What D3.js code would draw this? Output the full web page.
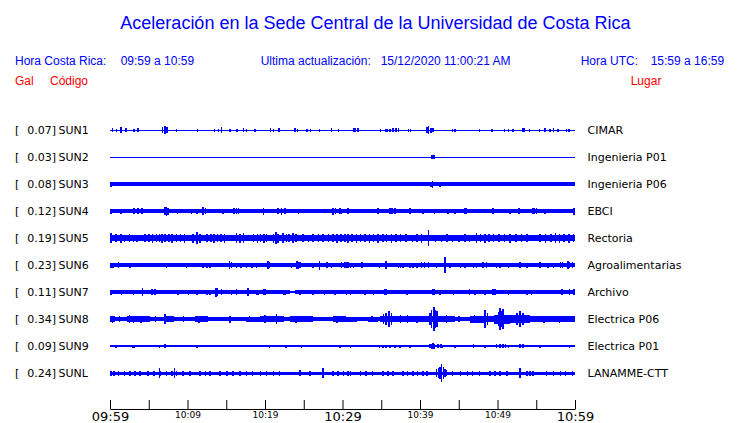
<!DOCTYPE html>
<html><head><meta charset="utf-8">
<script src="https://cdn.jsdelivr.net/npm/d3@7"></script>
<style>body{margin:0;background:#fff}svg{display:block}</style>
</head><body><svg id="c" width="740" height="423"></svg>
<script>
// ---------- data ----------
const title = "Aceleración en la Sede Central de la Universidad de Costa Rica";
const headerLocal = ["Hora Costa Rica:", "09:59 a 10:59"];
const headerUpdate = ["Ultima actualización:", "15/12/2020 11:00:21 AM"];
const headerUTC = ["Hora UTC:", "15:59 a 16:59"];
const columnHeads = ["Gal", "Código", "Lugar"];

const codes  = ["SUN1","SUN2","SUN3","SUN4","SUN5","SUN6","SUN7","SUN8","SUN9","SUNL"];
const peaks  = ["0.07","0.03","0.08","0.12","0.19","0.23","0.11","0.34","0.09","0.24"];
const places = ["CIMAR","Ingenieria P01","Ingenieria P06","EBCI","Rectoria","Agroalimentarias","Archivo","Electrica P06","Electrica P01","LANAMME-CTT"];

const startTime = new Date(2020, 11, 15, 9, 59);
const endTime   = new Date(2020, 11, 15, 10, 59);
const tickMinutes  = [0,5,10,15,20,25,30,35,40,45,50,55,60];
const labelMinutes = [0,10,20,30,40,50,60];
const majorMinutes = [0,30,60];

// envelope of each trace: [minute since 09:59, half amplitude] (step function)
const SUN1_band = [[0,0.5]];
const SUN1_spikes = [[0.35,2],[0.86,1.5],[1.42,3],[2.06,2],[3.1,1.5],[3.6,2],[6.8,3],[7.0,3],[7.1,4],[7.35,3],[8.6,1.5],[11.3,1.5],[13.5,1.5],[14.0,1.5],[14.4,3],[15.5,1.5],[16.4,1.5],[17.2,2],[17.6,1.5],[18.7,1.5],[20.7,2],[21.1,1.5],[21.8,2],[23.9,2],[24.2,1.5],[25.4,1.5],[25.9,1.5],[27.0,1.5],[28.6,2],[29.5,1.5],[31.5,2],[31.7,2],[32.0,2],[34.9,1.5],[35.6,1.5],[35.8,1.5],[36.1,1.5],[36.5,2],[36.9,2],[37.2,2],[38.5,1.5],[38.8,1.5],[40.9,3],[41.1,4],[41.4,2.5],[41.7,2],[44.2,1.5],[44.5,1.5],[47.7,1.5],[49.3,1.5],[50.9,1.5],[51.4,1.5],[52.0,1.5],[53.3,2],[53.5,2],[54.1,1.5],[55.4,1.5],[56.1,2],[56.8,1.5],[57.2,2],[57.8,1.5],[58.9,1.5],[59.2,1.5]];

const SUN2_band = [[0,0.5]];
const SUN2_spikes = [[41.55,1.7],[41.7,1.7],[41.8,1.7]];

const SUN3_band = [[0,1.9]];
const SUN3_spikes = [[0.05,2.5],[0.2,2.5],[41.4,2.5],[41.6,3.5],[42.6,2.5]];

const SUN4_band = [[0,2]];
const SUN4_spikes = [[0.13,2.5],[1.4,2.5],[3.1,3],[3.6,3],[4.1,3],[7.1,4],[7.3,4.5],[7.5,3.5],[8.7,2.5],[10.5,2.5],[11.2,2.5],[12.0,4],[12.3,3],[14.6,2.5],[16.0,3],[16.3,3],[16.6,3],[19.8,3.5],[21.7,3],[22.1,3.5],[22.6,3],[24.3,2.5],[28.8,3.5],[29.1,3],[29.7,3],[29.9,2.5],[30.7,3],[34.6,3],[36.1,3],[36.4,3],[36.8,3],[38.7,3],[40.4,2.5],[41.9,2.5],[43.6,2.5],[44.5,2.5],[45.8,3],[46.0,3],[49.4,3],[51.6,2.5],[52.8,3],[54.6,3],[54.8,3],[55.0,3],[56.1,2.5],[59.8,3],[59.9,3.5]];

const SUN5_band = [[0,3],[2.8,2.6],[4.3,3],[37,2.7],[38.5,3]];
const SUN5_spikes = [[0.13,5],[0.8,4],[1.4,4.5],[1.9,3.5],[2.5,4],[3.0,3.5],[3.5,3.5],[4.5,4],[5.0,4],[5.5,4.5],[6.0,4],[6.4,4],[6.7,4.5],[7.1,4],[7.6,4],[8.0,4.5],[8.6,4],[9.1,4],[9.6,4.5],[10.7,4.5],[11.2,6],[11.6,4.5],[12.5,4],[13.0,4],[13.4,4.5],[13.9,4],[14.3,4],[14.8,4.5],[16.3,5],[16.8,4.5],[17.2,5],[18.5,4],[19.0,4.5],[19.4,4],[19.9,4.5],[20.2,4],[21.1,4.5],[21.4,6],[21.7,4.5],[22.3,5],[22.8,4],[23.1,4],[23.6,5],[24.0,4],[24.9,4],[25.6,3.5],[26.2,4],[26.9,4],[27.5,4],[28.2,4],[28.8,4],[29.3,4.5],[29.8,4],[30.3,4],[30.7,4.5],[31.2,4],[31.8,4.5],[32.3,4],[32.9,4],[33.5,4.5],[34.0,4],[34.6,4.5],[35.2,4],[35.7,4],[36.3,4.5],[36.9,4],[37.5,4],[38.2,4],[39.0,3.5],[39.6,4],[40.2,4.5],[41.1,8],[42.0,3.5],[42.8,3.5],[43.5,4],[44.2,3.5],[45.0,3.5],[45.8,4],[46.4,3.5],[47.3,5],[47.8,4],[48.4,4.5],[48.9,4],[49.5,4],[50.2,4],[50.9,4],[51.6,4.5],[52.4,4],[53.1,4],[53.8,4],[55.5,4],[56.2,4.5],[56.9,4],[57.5,5],[58.0,4.5],[58.6,4],[59.2,4.5],[59.8,4]];

const SUN6_band = [[0,1.6],[5.2,1.9],[6.9,1.6]];
const SUN6_spikes = [[0.1,2.5],[0.4,2.5],[1.1,3],[2.6,2.5],[7.3,2.5],[9.9,2.5],[12.0,2.5],[12.5,2.5],[12.9,2.5],[15.4,4],[15.7,3],[16.3,2.5],[16.9,2.5],[17.6,2.5],[18.3,2.5],[18.9,2.5],[20.4,4],[20.6,3],[23.4,2.5],[24.1,4],[24.3,3.5],[24.5,3],[26.2,2.5],[27.0,4.5],[28.0,3],[28.6,2.5],[29.9,3],[30.3,3],[30.5,3],[30.7,3],[31.0,2.5],[31.4,2.5],[32.5,3],[34.8,2.5],[35.6,4],[37.2,2.5],[37.5,2.5],[37.8,2.5],[38.7,2.5],[39.1,2.5],[39.6,2.5],[40.2,3],[40.6,3],[41.1,3],[42.1,2.5],[43.2,8],[43.9,2.5],[45.2,2.5],[45.8,2.5],[46.9,2.5],[47.3,2.5],[48.1,3],[48.6,3],[49.9,2.5],[50.3,2.5],[51.4,2.5],[52.9,3],[53.8,2.5],[55.5,3],[56.5,2.5],[57.2,2.5],[58.1,3],[58.4,3],[59.1,4],[59.3,3],[59.7,3]];

const SUN7_band = [[0,2],[23.2,1.3],[23.9,2]];
const SUN7_spikes = [[0.1,2.5],[1.5,2.5],[3.0,2.5],[4.2,4],[5.4,3],[5.8,3],[8.8,2.5],[10.1,2.5],[11.2,2.5],[12.5,2.5],[12.9,2.5],[13.7,4.5],[13.8,4],[14.4,3],[15.7,2.5],[16.3,3],[17.8,4],[18.9,2.5],[19.1,2.5],[19.8,3],[20.0,3],[22.4,2.5],[22.6,2.5],[24.5,2.5],[26.2,2.5],[27.7,2.5],[29.0,2.5],[30.5,2.5],[31.0,2.5],[32.9,2.5],[34.0,2.5],[35.5,3],[35.7,3],[38.3,2.5],[41.7,3],[41.9,3],[42.6,2.5],[44.3,2.5],[46.4,3],[47.1,2.5],[48.4,2.5],[49.4,3],[49.7,3],[51.4,2.5],[53.8,2.5],[54.4,2.5],[58.3,3],[59.3,3],[59.9,3]];

const SUN8_band = [[0,3],[0.7,2.4],[2.2,3.3],[3.2,2.8],[5.2,2.4],[7.1,2.6],[8.2,2.4],[11.0,2.8],[12.6,2.3],[17.6,2.5],[19.4,3.2],[22.4,2.2],[23.2,2.8],[26.2,2.2],[28.8,2.8],[30.5,2.5],[31.9,2.2],[33.3,2.5],[34.6,2.2],[34.9,3.3],[36.5,3.2],[41.2,2.6],[42.6,3.2],[44.5,2.4],[46.4,3.5],[48.4,2.8],[49.5,4.5],[51.6,3.6],[54.2,2.6]];
const SUN8_spikes = [[0.3,3.5],[1.2,3],[2.5,4],[3.0,3.5],[4.0,3.5],[5.9,3],[7.1,5],[9.5,3],[11.5,3.5],[15.5,3.5],[18.0,3],[20.0,4],[21.5,5],[24.0,3.5],[29.3,3.5],[33.8,3],[35.3,5],[35.6,6],[36.0,8],[36.3,6],[37.5,4],[38.4,4],[39.6,3.5],[41.3,6],[41.5,9],[41.8,12],[42.0,9],[42.2,8],[43.4,4],[45.0,3],[47.0,4],[48.4,9],[48.7,6],[50.1,7],[50.3,11],[50.5,8],[50.7,10],[50.8,7],[52.5,6],[52.9,8],[53.3,6],[56.0,3.5],[58.0,3.5]];

const SUN9_band = [[0,0.6]];
const SUN9_spikes = [[0.8,1.5],[2.9,1.5],[3.1,1.5],[6.4,1.5],[7.1,2],[11.2,1.5],[20.6,1.5],[22.7,1.5],[24.7,1.5],[29.7,1.5],[31.0,1.5],[34.8,1.5],[35.2,1.5],[35.6,1.5],[36.1,1.5],[36.8,1.5],[37.4,1.5],[38.7,1.5],[41.3,2],[41.5,2.5],[41.7,3],[41.9,2.5],[42.3,2],[42.7,2],[42.9,1.5],[44.5,1.5],[46.9,2],[48.4,1.5],[49.9,2],[50.3,2],[50.7,2],[51.0,2],[51.4,1.5],[52.9,2],[53.3,2],[55.5,1.5],[59.3,1.5]];

const SUNL_band = [[0,1.5]];
const SUNL_spikes = [[0.1,2.5],[0.5,2.5],[1.1,2.5],[1.9,2.5],[2.6,2.5],[3.2,2.5],[3.9,2.5],[4.9,2.5],[5.7,2.5],[6.4,5],[6.5,2.5],[7.3,2.5],[8.0,2.5],[8.3,5],[8.6,2.5],[9.4,2.5],[10.3,2.5],[11.6,2.5],[12.3,2.5],[12.9,2.5],[14.2,2.5],[15.1,2.5],[15.9,2.5],[16.8,2.5],[17.6,2.5],[18.4,2.5],[19.4,2.5],[20.2,2.5],[21.1,2.5],[21.9,2.5],[24.5,3],[25.8,2.5],[27.5,5],[28.8,2.5],[29.4,2.5],[30.1,2.5],[30.7,2.5],[31.0,2.5],[32.3,2.5],[33.0,2.5],[33.9,2.5],[35.2,2.5],[35.9,2.5],[36.5,2.5],[37.8,2.5],[38.4,2.5],[39.1,2.5],[39.7,2.5],[40.4,2.5],[40.9,2.5],[42.1,4],[42.4,5],[42.6,6],[42.8,9],[43.0,6],[43.2,4],[43.4,3],[44.2,2.5],[45.2,2.5],[46.1,2.5],[46.8,2.5],[47.7,2.5],[49.0,2.5],[49.7,2.5],[50.3,2.5],[51.2,2.5],[52.9,5],[53.8,2.5],[54.2,2.5],[54.6,2.5],[56.3,2.5],[57.2,2.5],[58.1,2.5],[58.8,2.5],[59.7,2.5]];

const bands  = [SUN1_band,SUN2_band,SUN3_band,SUN4_band,SUN5_band,SUN6_band,SUN7_band,SUN8_band,SUN9_band,SUNL_band];
const spikes = [SUN1_spikes,SUN2_spikes,SUN3_spikes,SUN4_spikes,SUN5_spikes,SUN6_spikes,SUN7_spikes,SUN8_spikes,SUN9_spikes,SUNL_spikes];

// ---------- drawing ----------
const BLUE = "#0000ff", RED = "#ff0000";
const svg = d3.select("#c");
const atMin = m => new Date(+startTime + m * 60000);

const x = d3.scaleTime().domain([startTime, endTime]).range([110, 575]);
const y = d3.scalePoint().domain(codes).range([130, 373]);
const amp = d3.scaleLinear().domain([0, 1]).range([0, 1]);

// title and headers
svg.append("text").attr("x", 375.5).attr("y", 29).attr("text-anchor", "middle")
  .attr("font-family", "Liberation Sans, Arial, sans-serif").attr("font-size", 18)
  .attr("fill", BLUE).text(title);

const hdr = svg.append("g").attr("font-family", "Liberation Sans, Arial, sans-serif").attr("font-size", 12);
const hdrItems = [
  [15, 65, headerLocal[0], BLUE], [120.7, 65, headerLocal[1], BLUE],
  [260.7, 65, headerUpdate[0], BLUE], [380.7, 65, headerUpdate[1], BLUE],
  [580.7, 65, headerUTC[0], BLUE], [650.7, 65, headerUTC[1], BLUE],
  [15, 85, columnHeads[0], RED], [50, 85, columnHeads[1], RED], [630.7, 85, columnHeads[2], RED]
];
hdr.selectAll("text").data(hdrItems).join("text")
  .attr("x", d => d[0]).attr("y", d => d[1]).attr("fill", d => d[3]).text(d => d[2]);

// left and right labels
const lab = svg.append("g").attr("font-family", "DejaVu Sans, sans-serif").attr("font-size", 11).attr("fill", "#000");
codes.forEach((c, i) => {
  const yy = y(c) + 4;
  lab.append("text").attr("x", 15).attr("y", yy).text("[");
  lab.append("text").attr("x", 27.3).attr("y", yy).text(peaks[i] + "]");
  lab.append("text").attr("x", 58.5).attr("y", yy).text(c);
  lab.append("text").attr("x", 587.5).attr("y", yy).text(places[i]);
});

// traces
const traces = svg.append("g").attr("fill", BLUE).attr("shape-rendering", "crispEdges");
codes.forEach((c, i) => {
  const yc = y(c);
  const b = bands[i].concat([[60, bands[i][bands[i].length - 1][1]]]);
  const area = d3.area().curve(d3.curveStepAfter)
    .x(d => x(atMin(d[0])))
    .y0(d => yc + amp(d[1]))
    .y1(d => yc - amp(d[1]));
  traces.append("path").attr("d", area(b));
  traces.selectAll(null).data(spikes[i]).join("rect")
    .attr("x", d => x(atMin(d[0])) - 0.75)
    .attr("width", 1.5)
    .attr("y", d => yc - amp(d[1]))
    .attr("height", d => 2 * amp(d[1]));
});

// time axis
const axis = d3.axisBottom(x)
  .tickValues(tickMinutes.map(atMin))
  .tickSizeInner(-9).tickSizeOuter(0).tickPadding(3)
  .tickFormat(d => {
    const m = Math.round((d - startTime) / 60000);
    return labelMinutes.includes(m) ? d3.timeFormat("%H:%M")(d) : "";
  });
const gA = svg.append("g").attr("transform", "translate(0,409)").call(axis);
gA.selectAll("text")
  .attr("font-family", "DejaVu Sans, sans-serif")
  .attr("fill", "#000")
  .attr("font-size", d => majorMinutes.includes(Math.round((d - startTime) / 60000)) ? 13 : 9);
gA.selectAll("line,path").attr("stroke", "#000");
</script>
</body></html>
